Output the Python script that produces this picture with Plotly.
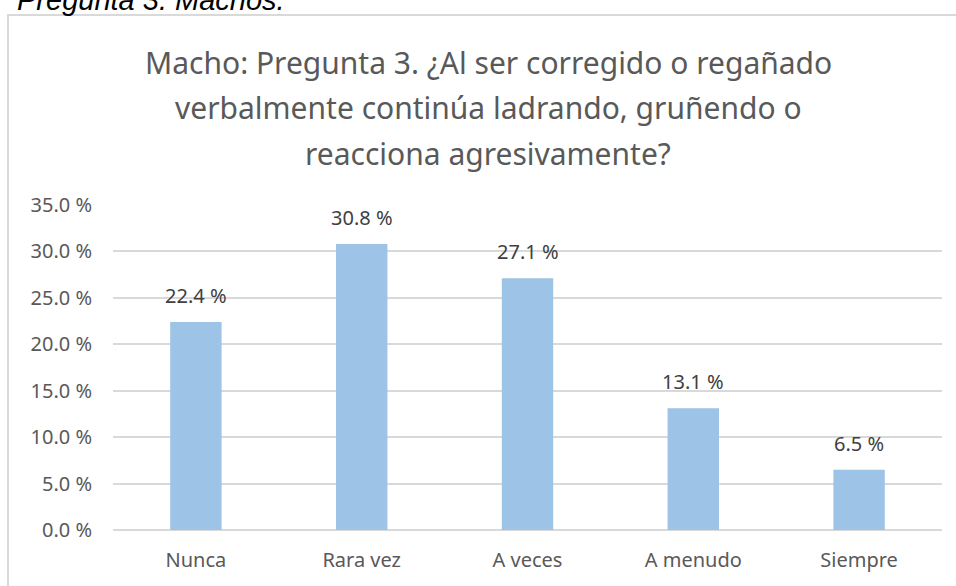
import plotly.graph_objects as go

categories = ["Nunca", "Rara vez", "A veces", "A menudo", "Siempre"]
values = [22.4, 30.8, 27.1, 13.1, 6.5]
tick_vals = [0, 5, 10, 15, 20, 25, 30, 35]
tick_text = ["0.0 %", "5.0 %", "10.0 %", "15.0 %", "20.0 %", "25.0 %", "30.0 %", "35.0 %"]
labels = [f"{v:.1f} %" for v in values]
title_lines = [
    "Macho: Pregunta 3. ¿Al ser corregido o regañado",
    "verbalmente continúa ladrando, gruñendo o",
    "reacciona agresivamente?",
]

W, H = 956, 586
L, R, T, B = 113, 14, 205, 56
pw, ph = W - L - R, H - T - B

def px(x):
    return (x - L) / pw

def py(y):
    return (H - B - y) / ph

FONT = "Noto Sans"

fig = go.Figure(go.Bar(
    x=categories, y=values,
    marker=dict(color="#9DC3E6", line=dict(width=0)),
    hoverinfo="skip",
))

annotations = []
for c, v, t in zip(categories, values, labels):
    annotations.append(dict(x=c, y=v, xref="x", yref="y", text=t, showarrow=False,
                            yanchor="bottom", xanchor="center", yshift=11,
                            font=dict(size=20, color="#404040", family=FONT)))

for i, line in enumerate(title_lines):
    annotations.append(dict(text=line, xref="paper", yref="paper", x=px(488), y=py(62 + 45.5 * i),
                            xanchor="center", yanchor="middle", showarrow=False,
                            font=dict(size=30, color="#595959", family=FONT)))

annotations.append(dict(text="<i>Pregunta 3. Machos.</i>", xref="paper", yref="paper",
                        x=px(15), y=py(18), xanchor="left", yanchor="bottom", showarrow=False,
                        font=dict(size=29, color="#000000", family="Liberation Sans")))

fig.update_layout(
    width=W, height=H,
    margin=dict(l=L, r=R, t=T, b=B),
    paper_bgcolor="white", plot_bgcolor="white",
    bargap=0.69,
    showlegend=False,
    font=dict(family=FONT, color="#595959"),
    yaxis=dict(range=[0, 35], tickvals=tick_vals, ticktext=tick_text,
               showgrid=True, gridcolor="#d9d9d9", gridwidth=1.5,
               zeroline=True, zerolinecolor="#d9d9d9", zerolinewidth=1.5,
               tickfont=dict(size=20, color="#595959", family=FONT), ticks="", ticklen=0,
               ticklabelstandoff=20, showline=False, fixedrange=True),
    xaxis=dict(tickfont=dict(size=20, color="#595959", family=FONT), showline=False, ticks="",
               ticklabelstandoff=16, fixedrange=True),
    annotations=annotations,
    shapes=[
        dict(type="rect", xref="paper", yref="paper", x0=px(8), x1=px(975), y0=py(600), y1=py(15),
             line=dict(color="#d9d9d9", width=2), fillcolor="rgba(0,0,0,0)", layer="below"),
    ],
)

fig.write_html("out.html", config={"displayModeBar": False},
               post_script="document.body.style.margin='0';document.body.style.overflow='hidden';")
